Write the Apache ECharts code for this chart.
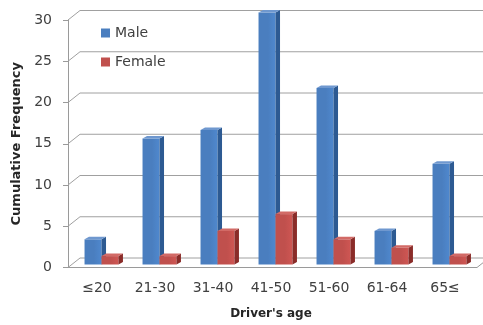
<!DOCTYPE html>
<html>
<head>
<meta charset="utf-8">
<script src="https://cdn.jsdelivr.net/npm/echarts@6/dist/echarts.min.js"></script>
<style>
  html, body { margin: 0; padding: 0; background: #fff; }
  #chart { width: 483px; height: 325px; }
</style>
</head>
<body>
<div id="chart"></div>
<script>
// Age groups of drivers and cumulative frequency per gender
const categories = ['≤20', '21-30', '31-40', '41-50', '51-60', '61-64', '65≤'];
const maleValues = [3, 15, 16, 30, 21, 4, 12];
const femaleValues = [1, 1, 4, 6, 3, 2, 1];
const yTicks = [0, 5, 10, 15, 20, 25, 30];

const FONT = '"DejaVu Sans", sans-serif';
const GRID_LINE = '#a0a0a0';

// Pseudo-3D depth of the chart walls and of each column
const WALL_DX = 12, WALL_DY = -9.5;
const BAR_DX = 4.5, BAR_DY = -2.5;

const maleFaces = { front: '#4a7ebf', side: '#2d5a92', top: '#6f98cf' };
const femaleFaces = { front: '#c0504d', side: '#8a2c29', top: '#d26a66' };

// Column drawn as front face, right side face and top face
function columnRenderer(f0, f1, faces) {
  return function (params, api) {
    const i = api.value(0);
    const v = api.value(1);
    const base = api.coord([i, 0]);
    const top = api.coord([i, v]);
    const band = api.size([1, 0])[0];
    const x0 = base[0] + band * f0;
    const x1 = base[0] + band * f1;
    const yb = base[1];
    const yt = top[1];
    return {
      type: 'group',
      children: [
        {
          type: 'polygon',
          shape: { points: [[x0, yt], [x1, yt], [x1, yb], [x0, yb]] },
          style: {
            fill: new echarts.graphic.LinearGradient(0, 0, 1, 0, [
              { offset: 0, color: faces.front },
              { offset: 0.55, color: faces.front },
              { offset: 1, color: echarts.color.lift(faces.front, -0.08) }
            ])
          }
        },
        {
          type: 'polygon',
          shape: { points: [[x1, yt], [x1 + BAR_DX, yt + BAR_DY], [x1 + BAR_DX, yb + BAR_DY], [x1, yb]] },
          style: { fill: faces.side }
        },
        {
          type: 'polygon',
          shape: { points: [[x0, yt], [x0 + BAR_DX, yt + BAR_DY], [x1 + BAR_DX, yt + BAR_DY], [x1, yt]] },
          style: { fill: faces.top }
        }
      ]
    };
  };
}

// Side wall, back wall gridlines and floor edges
function wallRenderer(params, api) {
  const v = api.value(1);
  const p = api.coord([0, v]);
  const band = api.size([1, 0])[0];
  const x0 = p[0] - band / 2;
  const y = p[1];
  const W = api.getWidth();
  const children = [{
    type: 'polyline',
    shape: { points: [[x0, y], [x0 + WALL_DX, y + WALL_DY], [W, y + WALL_DY]] },
    style: { stroke: GRID_LINE, lineWidth: 1, fill: null }
  }];
  if (v === 0) {
    const xR = x0 + band * categories.length;
    children.push({
      type: 'polyline',
      shape: { points: [[x0 - 5, y], [xR + 3, y], [xR + 3 + WALL_DX, y + WALL_DY]] },
      style: { stroke: '#9a9a9a', lineWidth: 1, fill: null }
    });
  }
  return { type: 'group', children: children };
}

const chart = echarts.init(document.getElementById('chart'), null, { renderer: 'canvas' });

chart.setOption({
  animation: false,
  backgroundColor: '#ffffff',
  color: [maleFaces.front, femaleFaces.front],
  legend: {
    data: ['Male', 'Female'],
    orient: 'vertical',
    left: 96,
    top: 21,
    itemWidth: 9,
    itemHeight: 9,
    itemGap: 15,
    icon: 'rect',
    textStyle: { fontFamily: FONT, fontSize: 14, color: '#404040' }
  },
  grid: [
    // front plane: axis labels and ticks
    { left: 68, right: 9, top: 20, bottom: 57.5 },
    // column plane, set slightly back from the front edge
    { left: 68, right: 9, top: 12.5, bottom: 60.5 }
  ],
  xAxis: [
    {
      type: 'category',
      gridIndex: 0,
      data: categories,
      axisLine: { show: false },
      axisTick: { show: false },
      axisLabel: { margin: 14, fontFamily: FONT, fontSize: 14, color: '#404040' },
      name: "Driver's age",
      nameLocation: 'middle',
      nameGap: 40,
      nameTextStyle: { fontFamily: FONT, fontSize: 12, fontWeight: 'bold', color: '#262626' }
    },
    {
      type: 'category',
      gridIndex: 1,
      data: categories,
      show: false
    }
  ],
  yAxis: [
    {
      type: 'value',
      gridIndex: 0,
      min: 0,
      max: 30,
      interval: 5,
      axisLine: { show: true, lineStyle: { color: '#9a9a9a' } },
      axisTick: { show: true, length: 5, lineStyle: { color: '#9a9a9a' } },
      splitLine: { show: false },
      axisLabel: { margin: 16, fontFamily: FONT, fontSize: 14, color: '#404040' },
      name: 'Cumulative Frequency',
      nameLocation: 'middle',
      nameGap: 43,
      nameTextStyle: { fontFamily: FONT, fontSize: 13, fontWeight: 'bold', color: '#262626' }
    },
    {
      type: 'value',
      gridIndex: 1,
      min: 0,
      max: 30,
      interval: 5,
      show: false
    }
  ],
  series: [
    {
      type: 'custom',
      name: 'walls',
      xAxisIndex: 0,
      yAxisIndex: 0,
      z: 1,
      silent: true,
      renderItem: wallRenderer,
      data: yTicks.map(function (v) { return [0, v]; })
    },
    {
      type: 'custom',
      name: 'Male',
      xAxisIndex: 1,
      yAxisIndex: 1,
      z: 3,
      itemStyle: { color: maleFaces.front },
      renderItem: columnRenderer(-0.215, 0.078, maleFaces),
      encode: { x: 0, y: 1 },
      data: maleValues.map(function (v, i) { return [i, v]; })
    },
    {
      type: 'custom',
      name: 'Female',
      xAxisIndex: 1,
      yAxisIndex: 1,
      z: 3,
      itemStyle: { color: femaleFaces.front },
      renderItem: columnRenderer(0.078, 0.37, femaleFaces),
      encode: { x: 0, y: 1 },
      data: femaleValues.map(function (v, i) { return [i, v]; })
    }
  ]
});
</script>
</body>
</html>
